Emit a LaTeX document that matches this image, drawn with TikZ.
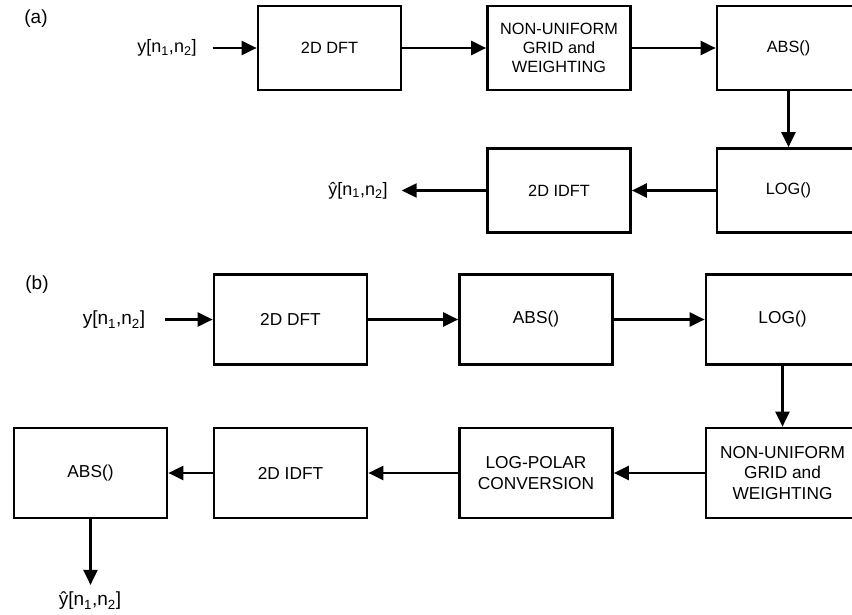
\documentclass[tikz,border=0pt]{standalone}
\usepackage{fontspec}
\setmainfont{Liberation Sans}
\usetikzlibrary{arrows.meta}
\begin{document}
\begin{tikzpicture}[x=1pt,y=-1pt,
  boxa/.style={draw=black, line width=2.7pt, minimum width=143pt, minimum height=84pt,
    inner sep=0pt, align=center, font=\fontsize{16.3}{19}\selectfont},
  boxb/.style={draw=black, line width=2.7pt, minimum width=153pt, minimum height=90pt,
    inner sep=0pt, align=center, font=\fontsize{17.3}{20.5}\selectfont},
  sig/.style={inner sep=0pt, font=\fontsize{#1}{#1}\selectfont},
  panel/.style={inner sep=0pt, font=\fontsize{19}{19}\selectfont},
  arr/.style={line width=2.4pt, -{Triangle[length=15pt,width=14pt]}}
]
\useasboundingbox (0,0) rectangle (852,615);
\clip (0,0) rectangle (852,615);
\fill[white] (0,0) rectangle (852,615);

% ---------- (a) ----------
\node[panel] (pa) at (36,19) {(a)};
\node[sig=18] (ina) at (167,48) {y[n\textsubscript{1},n\textsubscript{2}]};
\node[boxa] (dfta) at (329.5,48) {2D DFT};
\node[boxa] (nua) at (559,48) {NON-UNIFORM\\GRID and\\WEIGHTING};
\node[boxa] (absa) at (788.5,48) {ABS()};
\node[boxa] (loga) at (788.5,190.5) {LOG()};
\node[boxa] (idfta) at (559,190.5) {2D IDFT};
\node[sig=18] (outa) at (358,190.5) {ŷ[n\textsubscript{1},n\textsubscript{2}]};

\draw[arr] ([xshift=16pt]ina.east |- dfta.west) -- (dfta.west);
\draw[arr] (dfta) -- (nua);
\draw[arr] (nua) -- (absa);
\draw[arr] (absa) -- (loga);
\draw[arr] (loga) -- (idfta);
\draw[arr] (idfta.west) -- ([xshift=14pt]outa.east |- idfta.west);

% ---------- (b) ----------
\node[panel] (pb) at (37,285) {(b)};
\node[sig=19] (inb) at (114,320) {y[n\textsubscript{1},n\textsubscript{2}]};
\node[boxb] (dftb) at (290.5,319.5) {2D DFT};
\node[boxb] (absb) at (536,319.5) {ABS()};
\node[boxb] (logb) at (782.5,319.5) {LOG()};
\node[boxb] (nub) at (782.5,473) {NON-UNIFORM\\GRID and\\WEIGHTING};
\node[boxb] (lpb) at (536,473) {LOG-POLAR\\CONVERSION};
\node[boxb] (idftb) at (290.5,473) {2D IDFT};
\node[boxb] (absc) at (90.5,473) {ABS()};
\node[sig=19] (outb) at (90,601) {ŷ[n\textsubscript{1},n\textsubscript{2}]};

\draw[arr] ([xshift=20pt]inb.east |- dftb.west) -- (dftb.west);
\draw[arr] (dftb) -- (absb);
\draw[arr] (absb) -- (logb);
\draw[arr] (logb) -- (nub);
\draw[arr] (nub) -- (lpb);
\draw[arr] (lpb) -- (idftb);
\draw[arr] (idftb) -- (absc);
\draw[arr] (absc.south) -- ([yshift=7pt]absc.south |- outb.north);
\end{tikzpicture}
\end{document}
